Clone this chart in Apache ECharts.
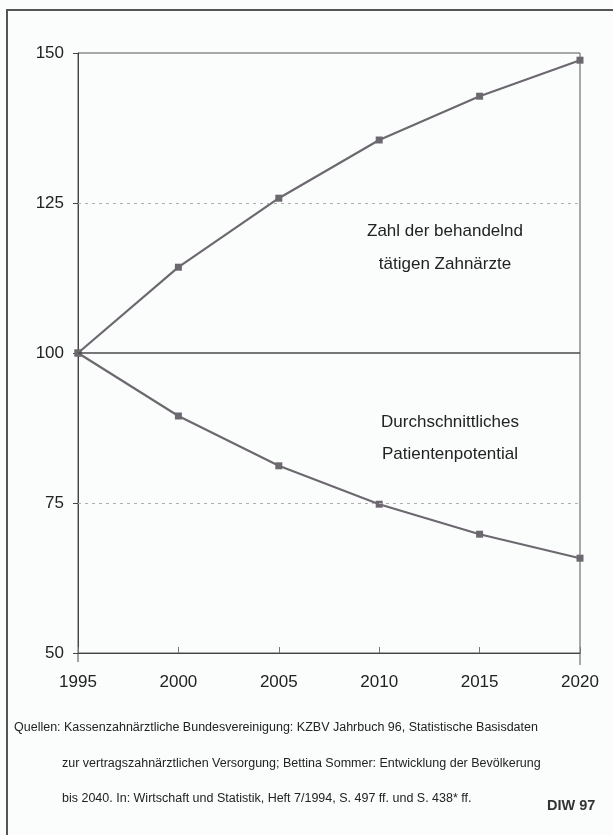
<!DOCTYPE html>
<html><head><meta charset="utf-8">
<script src="https://cdn.jsdelivr.net/npm/echarts@6/dist/echarts.min.js"></script>
<style>html,body{margin:0;padding:0;background:#fbfdfd}#c{width:613px;height:835px}</style>
</head><body><div id="c"></div>
<script>
const years = [1995, 2000, 2005, 2010, 2015, 2020];
const zahnaerzte = [100, 114.3, 125.8, 135.5, 142.8, 148.8];
const patienten = [100, 89.5, 81.2, 74.8, 69.8, 65.8];
const yTicks = [50, 75, 100, 125, 150];
const seriesLabels = ['Zahl der behandelnd\ntätigen Zahnärzte', 'Durchschnittliches\nPatientenpotential'];
const sourceLines = [
  'Quellen: Kassenzahnärztliche Bundesvereinigung: KZBV Jahrbuch 96, Statistische Basisdaten',
  'zur vertragszahnärztlichen Versorgung; Bettina Sommer: Entwicklung der Bevölkerung',
  'bis 2040. In: Wirtschaft und Statistik, Heft 7/1994, S. 497 ff. und S. 438* ff.'
];
const credit = 'DIW 97';

const chart = echarts.init(document.getElementById('c'));
const lineColor = '#6d6870';
const fontFam = '"Liberation Sans", Arial, sans-serif';
const baseGraphic = [
  {type: 'polyline', shape: {points: [[7, 835], [7, 10], [613, 10]]}, style: {stroke: '#555', lineWidth: 2, fill: null}},
  {type: 'text', x: 445, y: 215, style: {text: seriesLabels[0], fill: '#222', font: '17px ' + fontFam, align: 'center', lineHeight: 33}},
  {type: 'text', x: 450, y: 406, style: {text: seriesLabels[1], fill: '#222', font: '17px ' + fontFam, align: 'center', lineHeight: 32}},
  {type: 'text', x: 14, y: 721, style: {text: sourceLines[0], fill: '#222', font: '12.5px ' + fontFam}},
  {type: 'text', x: 62, y: 757, style: {text: sourceLines[1], fill: '#222', font: '12.5px ' + fontFam}},
  {type: 'text', x: 62, y: 792, style: {text: sourceLines[2], fill: '#222', font: '12.5px ' + fontFam}},
  {type: 'text', x: 547, y: 798, style: {text: credit, fill: '#333', font: 'bold 14.5px ' + fontFam}}
];
chart.setOption({
  backgroundColor: '#fbfdfd',
  animation: false,
  grid: {left: 78, right: 33, top: 53, bottom: 182, show: true, borderColor: '#555', borderWidth: 1, backgroundColor: 'transparent'},
  xAxis: {
    type: 'value', min: 1995, max: 2020, interval: 5,
    axisLine: {lineStyle: {color: '#444', width: 1}},
    axisTick: {show: true, inside: true, length: 6, lineStyle: {color: '#777'}},
    axisLabel: {color: '#222', fontSize: 17, fontFamily: fontFam, margin: 21, formatter: v => String(v)},
    splitLine: {show: false}
  },
  yAxis: {
    type: 'value', min: 50, max: 150, interval: 25,
    axisLine: {show: true, lineStyle: {color: '#444', width: 1}},
    axisTick: {show: true, length: 5, lineStyle: {color: '#444'}},
    axisLabel: {color: '#222', fontSize: 17, fontFamily: fontFam, margin: 14},
    splitLine: {show: false}
  },
  series: [
    {
      type: 'line', data: years.map((y, i) => [y, zahnaerzte[i]]),
      symbol: 'rect', symbolSize: 7, lineStyle: {color: lineColor, width: 2.2}, itemStyle: {color: lineColor},
      markLine: {
        silent: true, symbol: 'none', label: {show: false},
        data: [
          {yAxis: 125, lineStyle: {type: [3, 4], color: '#b0b0b0', width: 1}},
          {yAxis: 75, lineStyle: {type: [3, 4], color: '#b0b0b0', width: 1}},
          {yAxis: 100, lineStyle: {type: 'solid', color: '#4a4a4a', width: 1.5}}
        ]
      }
    },
    {
      type: 'line', data: years.map((y, i) => [y, patienten[i]]),
      symbol: 'rect', symbolSize: 7, lineStyle: {color: lineColor, width: 2.2}, itemStyle: {color: lineColor}
    }
  ],
  graphic: baseGraphic
});
// extend left axis and right border slightly below the x axis, as in the original
const pL = chart.convertToPixel({gridIndex: 0}, [years[0], yTicks[0]]);
const pR = chart.convertToPixel({gridIndex: 0}, [years[years.length - 1], yTicks[0]]);
chart.setOption({graphic: baseGraphic.concat([
  {type: 'line', shape: {x1: pL[0], y1: pL[1], x2: pL[0], y2: pL[1] + 9}, style: {stroke: '#444', lineWidth: 1}},
  {type: 'line', shape: {x1: pR[0], y1: pR[1], x2: pR[0], y2: pR[1] + 12}, style: {stroke: '#555', lineWidth: 1}}
])});
</script></body></html>
